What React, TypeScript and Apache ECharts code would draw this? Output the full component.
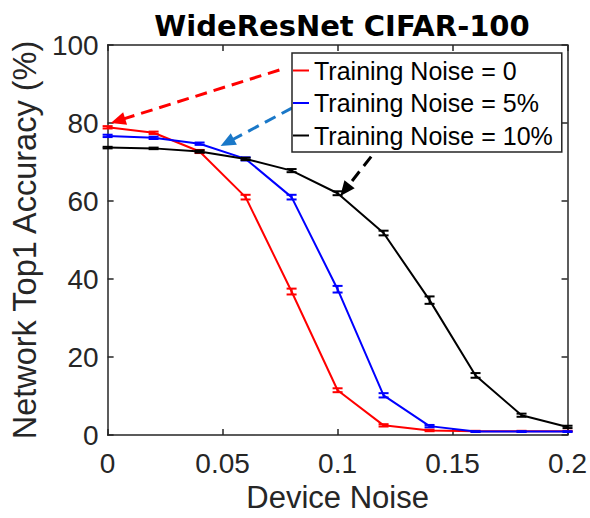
import React, { useEffect, useRef } from "react";
import * as echarts from "echarts";

const deviceNoise = [0, 0.02, 0.04, 0.06, 0.08, 0.1, 0.12, 0.14, 0.16, 0.18, 0.2];
const seriesNames = ["Training Noise = 0", "Training Noise = 5%", "Training Noise = 10%"];
const acc0 = [78.9, 77.5, 72.7, 61.0, 36.8, 11.5, 2.5, 1.2, 1.0, 1.0, 1.0];
const acc5 = [76.7, 76.2, 74.7, 70.8, 61.0, 37.4, 10.2, 2.3, 0.9, 0.9, 0.9];
const acc10 = [73.7, 73.5, 72.7, 70.8, 67.8, 62.0, 51.8, 34.6, 15.3, 5.1, 2.1];
const err0 = [0.3, 0.3, 0.4, 0.6, 0.75, 0.5, 0.3, 0.2, 0.1, 0.1, 0.1];
const err5 = [0.3, 0.3, 0.3, 0.4, 0.6, 0.85, 0.55, 0.3, 0.1, 0.1, 0.1];
const err10 = [0.2, 0.2, 0.3, 0.3, 0.4, 0.5, 0.6, 0.95, 0.6, 0.4, 0.3];
const xTicks = [0, 0.05, 0.1, 0.15, 0.2];
const yTicks = [0, 20, 40, 60, 80, 100];
// annotation arrows in data coordinates: [start, end]
const arrow0 = [[0.0747, 93.6], [0.0045, 80.6]];
const arrow5 = [[0.0803, 83.9], [0.052, 75.0]];
const arrow10 = [[0.1146, 71.4], [0.1032, 62.8]];

const colors = ["#ff0000", "#0000ff", "#000000"];
const arrowColors = ["#ff0000", "#1a78c8", "#000000"];
const FONT = "Liberation Sans, Arial, sans-serif";
const AX = "#262626";

export default function App() {
  const ref = useRef<HTMLDivElement>(null);
  useEffect(() => {
    if (!ref.current) return;
    const chart = echarts.init(ref.current, undefined, { renderer: "svg" });
    const accs = [acc0, acc5, acc10];
    const errs = [err0, err5, err10];
    const arrows = [arrow0, arrow5, arrow10];

    const lineSeries = accs.map((acc, i) => ({
      type: "line",
      name: seriesNames[i],
      data: deviceNoise.map((x, j) => [x, acc[j]]),
      showSymbol: false,
      symbol: "none",
      lineStyle: { color: colors[i], width: 2 },
      itemStyle: { color: colors[i] },
      z: 3 + i,
      silent: true,
      markLine: {
        silent: true,
        symbol: ["none", "triangle"],
        symbolSize: [13, 15],
        label: { show: false },
        lineStyle: { color: arrowColors[i], width: 3, type: [12, 7] },
        itemStyle: { color: arrowColors[i] },
        emphasis: { disabled: true },
        data: [[{ coord: arrows[i][0] }, { coord: arrows[i][1] }]],
      },
    }));

    const errSeries = accs.map((acc, i) => ({
      type: "custom",
      name: seriesNames[i],
      silent: true,
      z: 3 + i,
      data: deviceNoise.map((x, j) => [x, acc[j], acc[j] - errs[i][j], acc[j] + errs[i][j]]),
      renderItem: (params: any, api: any) => {
        const x = api.value(0);
        const lo = api.coord([x, api.value(2)]);
        const hi = api.coord([x, api.value(3)]);
        const w = 5;
        const style = { stroke: colors[i], lineWidth: 2, fill: "none" };
        return {
          type: "group",
          children: [
            { type: "line", shape: { x1: lo[0], y1: lo[1], x2: hi[0], y2: hi[1] }, style },
            { type: "line", shape: { x1: lo[0] - w, y1: lo[1], x2: lo[0] + w, y2: lo[1] }, style },
            { type: "line", shape: { x1: hi[0] - w, y1: hi[1], x2: hi[0] + w, y2: hi[1] }, style },
          ],
        };
      },
    }));

    const axisCommon = {
      type: "value",
      axisLine: { show: true, onZero: false, lineStyle: { color: AX, width: 1.5 } },
      axisTick: { show: true, inside: true, length: 6, lineStyle: { color: AX, width: 1.5 } },
      splitLine: { show: false },
    };

    chart.setOption({
      animation: false,
      backgroundColor: "#ffffff",
      title: {
        text: "WideResNet CIFAR-100",
        left: 337,
        top: 6,
        textAlign: "center",
        textStyle: { fontFamily: "DejaVu Sans, Liberation Sans, sans-serif", fontSize: 29, fontWeight: "bold", color: "#000" },
      },
      legend: {
        data: seriesNames,
        orient: "vertical",
        left: 292,
        top: 53,
        padding: [5, 9, 4, 1],
        itemGap: 7.5,
        itemWidth: 16,
        itemHeight: 2,
        icon: "rect",
        backgroundColor: "#ffffff",
        borderColor: AX,
        borderWidth: 1.5,
        borderRadius: 0,
        selectedMode: false,
        textStyle: { fontFamily: FONT, fontSize: 25, color: "#000", lineHeight: 25, padding: [0, 0, 0, 0] },
        z: 20,
      },
      grid: { left: 103, top: 45, width: 466, height: 392, containLabel: false },
      xAxis: [
        {
          ...axisCommon,
          min: 0,
          max: 0.2,
          interval: 0.05,
          position: "bottom",
          name: "Device Noise",
          nameLocation: "middle",
          nameGap: 45,
          nameTextStyle: { fontFamily: FONT, fontSize: 31, color: AX },
          axisLabel: {
            fontFamily: FONT,
            fontSize: 28,
            color: AX,
            margin: 14,
            formatter: (v: number) => (xTicks.some((t) => Math.abs(t - v) < 1e-9) ? String(+v.toFixed(2)) : ""),
          },
        },
        {
          ...axisCommon,
          min: 0,
          max: 0.2,
          interval: 0.05,
          position: "top",
          axisLabel: { show: false },
        },
      ],
      yAxis: [
        {
          ...axisCommon,
          min: 0,
          max: 100,
          interval: 20,
          position: "left",
          name: "Network Top1 Accuracy (%)",
          nameLocation: "middle",
          nameGap: 55,
          nameTextStyle: { fontFamily: FONT, fontSize: 32.5, color: AX },
          axisLabel: {
            fontFamily: FONT,
            fontSize: 28,
            color: AX,
            margin: 9,
            formatter: (v: number) => (yTicks.indexOf(v) >= 0 ? String(v) : ""),
          },
        },
        {
          ...axisCommon,
          min: 0,
          max: 100,
          interval: 20,
          position: "right",
          axisLabel: { show: false },
        },
      ],
      series: [...lineSeries, ...errSeries],
    });
    return () => chart.dispose();
  }, []);
  return (
    <div
      ref={ref}
      style={{ position: "fixed", left: 0, top: 0, width: 590, height: 518, background: "#fff" }}
    />
  );
}
